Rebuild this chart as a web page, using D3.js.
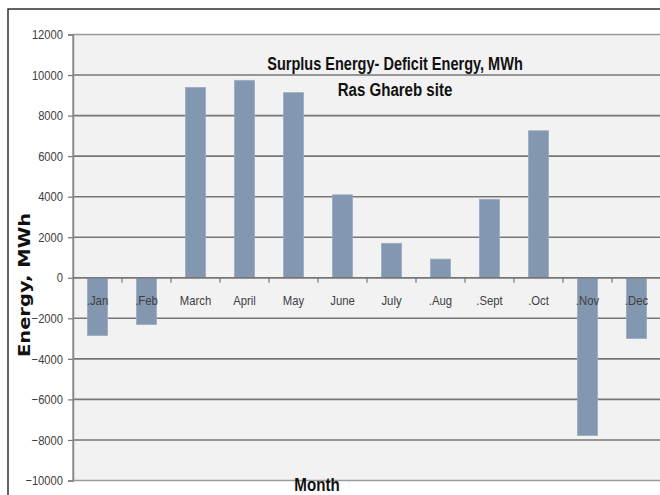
<!DOCTYPE html>
<meta charset="utf-8">
<style>
body { margin: 0; background: #fff; }
.tick-label { font-family: "Liberation Sans", Arial, sans-serif; font-size: 13px; fill: #404040; }
.grid line { stroke: #767676; stroke-width: 1.6px; }
.bar { fill: #8497B0; stroke: #9aabc2; stroke-width: 0.8px; }
.title { font-family: "Liberation Sans", Arial, sans-serif; font-weight: bold; font-size: 17.5px; fill: #111; }
</style>
<body>
<script src="https://cdnjs.cloudflare.com/ajax/libs/d3/7.8.5/d3.min.js"></script>
<script>
// Surplus / deficit energy per month, Ras Ghareb site
var months = [".Jan", ".Feb", "March", "April", "May", "June", "July", ".Aug", ".Sept", ".Oct", ".Nov", ".Dec"];
var energy = [-2850, -2300, 9390, 9740, 9130, 4090, 1700, 920, 3870, 7250, -7780, -3000];
var yTicks = [-10000, -8000, -6000, -4000, -2000, 0, 2000, 4000, 6000, 8000, 10000, 12000];

var W = 660, H = 495;
var margin = {top: 34.5, right: -1, bottom: 14.5, left: 73};
var width = W - margin.left - margin.right,
    height = H - margin.top - margin.bottom;

// no narrow font installed, so squeeze the text horizontally
function squeeze(sel, f) {
  sel.each(function() {
    var w = this.getComputedTextLength();
    d3.select(this).attr("textLength", w * f).attr("lengthAdjust", "spacingAndGlyphs");
  });
}

var svg = d3.select("body").append("svg")
    .attr("width", W)
    .attr("height", H);

// outer frame
svg.append("rect")
    .attr("x", 8).attr("y", 9)
    .attr("width", 700).attr("height", 600)
    .attr("fill", "#fff")
    .attr("stroke", "#222")
    .attr("stroke-width", 1.4);

var g = svg.append("g")
    .attr("transform", "translate(" + margin.left + "," + margin.top + ")");

var x = d3.scaleBand()
    .domain(months)
    .range([0, width])
    .paddingInner(0.59)
    .paddingOuter(0.295);

var y = d3.scaleLinear()
    .domain([yTicks[0], yTicks[yTicks.length - 1]])
    .range([height, 0]);

// plot area
g.append("rect")
    .attr("width", width)
    .attr("height", height)
    .attr("fill", "#f2f2f2")
    .attr("stroke", "#9a9a9a")
    .attr("stroke-width", 1.5);

// gridlines
g.append("g")
    .attr("class", "grid")
    .selectAll("line")
    .data(yTicks.filter(function(d) { return d !== yTicks[0] && d !== yTicks[yTicks.length - 1]; }))
    .enter().append("line")
    .attr("x1", 0).attr("x2", width)
    .attr("y1", function(d) { return y(d); })
    .attr("y2", function(d) { return y(d); });

// left axis
var yAxis = g.append("g")
    .call(d3.axisLeft(y).tickValues(yTicks).tickSize(5).tickPadding(5).tickFormat(d3.format("d")));
yAxis.select(".domain").attr("stroke", "#8a8a8a").attr("stroke-width", 1.5);
yAxis.selectAll(".tick line").attr("stroke", "#767676").attr("stroke-width", 1.2);
yAxis.selectAll(".tick text").attr("class", "tick-label").attr("font-family", null).attr("font-size", null).attr("fill", null);
squeeze(yAxis.selectAll(".tick text"), 0.86);

// bars
g.selectAll(".bar")
    .data(energy)
    .enter().append("rect")
    .attr("class", "bar")
    .attr("x", function(d, i) { return x(months[i]); })
    .attr("width", x.bandwidth())
    .attr("y", function(d) { return y(Math.max(0, d)); })
    .attr("height", function(d) { return Math.abs(y(d) - y(0)); });

// category axis at zero
var xAxis = g.append("g")
    .attr("transform", "translate(0," + y(0) + ")");
xAxis.append("line")
    .attr("x1", 0).attr("x2", width)
    .attr("stroke", "#767676").attr("stroke-width", 1.6);
xAxis.selectAll(".cat-tick")
    .data(months.slice(0, -1))
    .enter().append("line")
    .attr("class", "cat-tick")
    .attr("x1", function(d) { return x(d) + x.bandwidth() / 2 + x.step() / 2; })
    .attr("x2", function(d) { return x(d) + x.bandwidth() / 2 + x.step() / 2; })
    .attr("y1", 0).attr("y2", 5)
    .attr("stroke", "#767676").attr("stroke-width", 1.2);
var catLabels = xAxis.selectAll(".cat-label")
    .data(months)
    .enter().append("text")
    .attr("class", "tick-label")
    .attr("x", function(d) { return x(d) + x.bandwidth() / 2; })
    .attr("y", 27)
    .attr("text-anchor", "middle")
    .text(function(d) { return d; });
squeeze(catLabels, 0.87);

// titles
var t1 = svg.append("text")
    .attr("class", "title")
    .attr("x", 395).attr("y", 70)
    .attr("text-anchor", "middle")
    .text("Surplus Energy- Deficit Energy, MWh");
var t2 = svg.append("text")
    .attr("class", "title")
    .attr("x", 395).attr("y", 96)
    .attr("text-anchor", "middle")
    .text("Ras Ghareb  site");
squeeze(t1, 0.83);
squeeze(t2, 0.86);

var t3 = svg.append("text")
    .attr("class", "title")
    .attr("x", 317).attr("y", 491)
    .attr("text-anchor", "middle")
    .style("font-size", "18px")
    .text("Month");
squeeze(t3, 0.84);

svg.append("text")
    .attr("transform", "translate(30,285) rotate(-90)")
    .attr("text-anchor", "middle")
    .attr("textLength", 144)
    .attr("lengthAdjust", "spacingAndGlyphs")
    .style("font-family", "'DejaVu Sans', Verdana, sans-serif")
    .style("font-weight", "bold")
    .style("font-size", "16.5px")
    .attr("fill", "#111")
    .text("Energy, MWh");
</script>
</body>
